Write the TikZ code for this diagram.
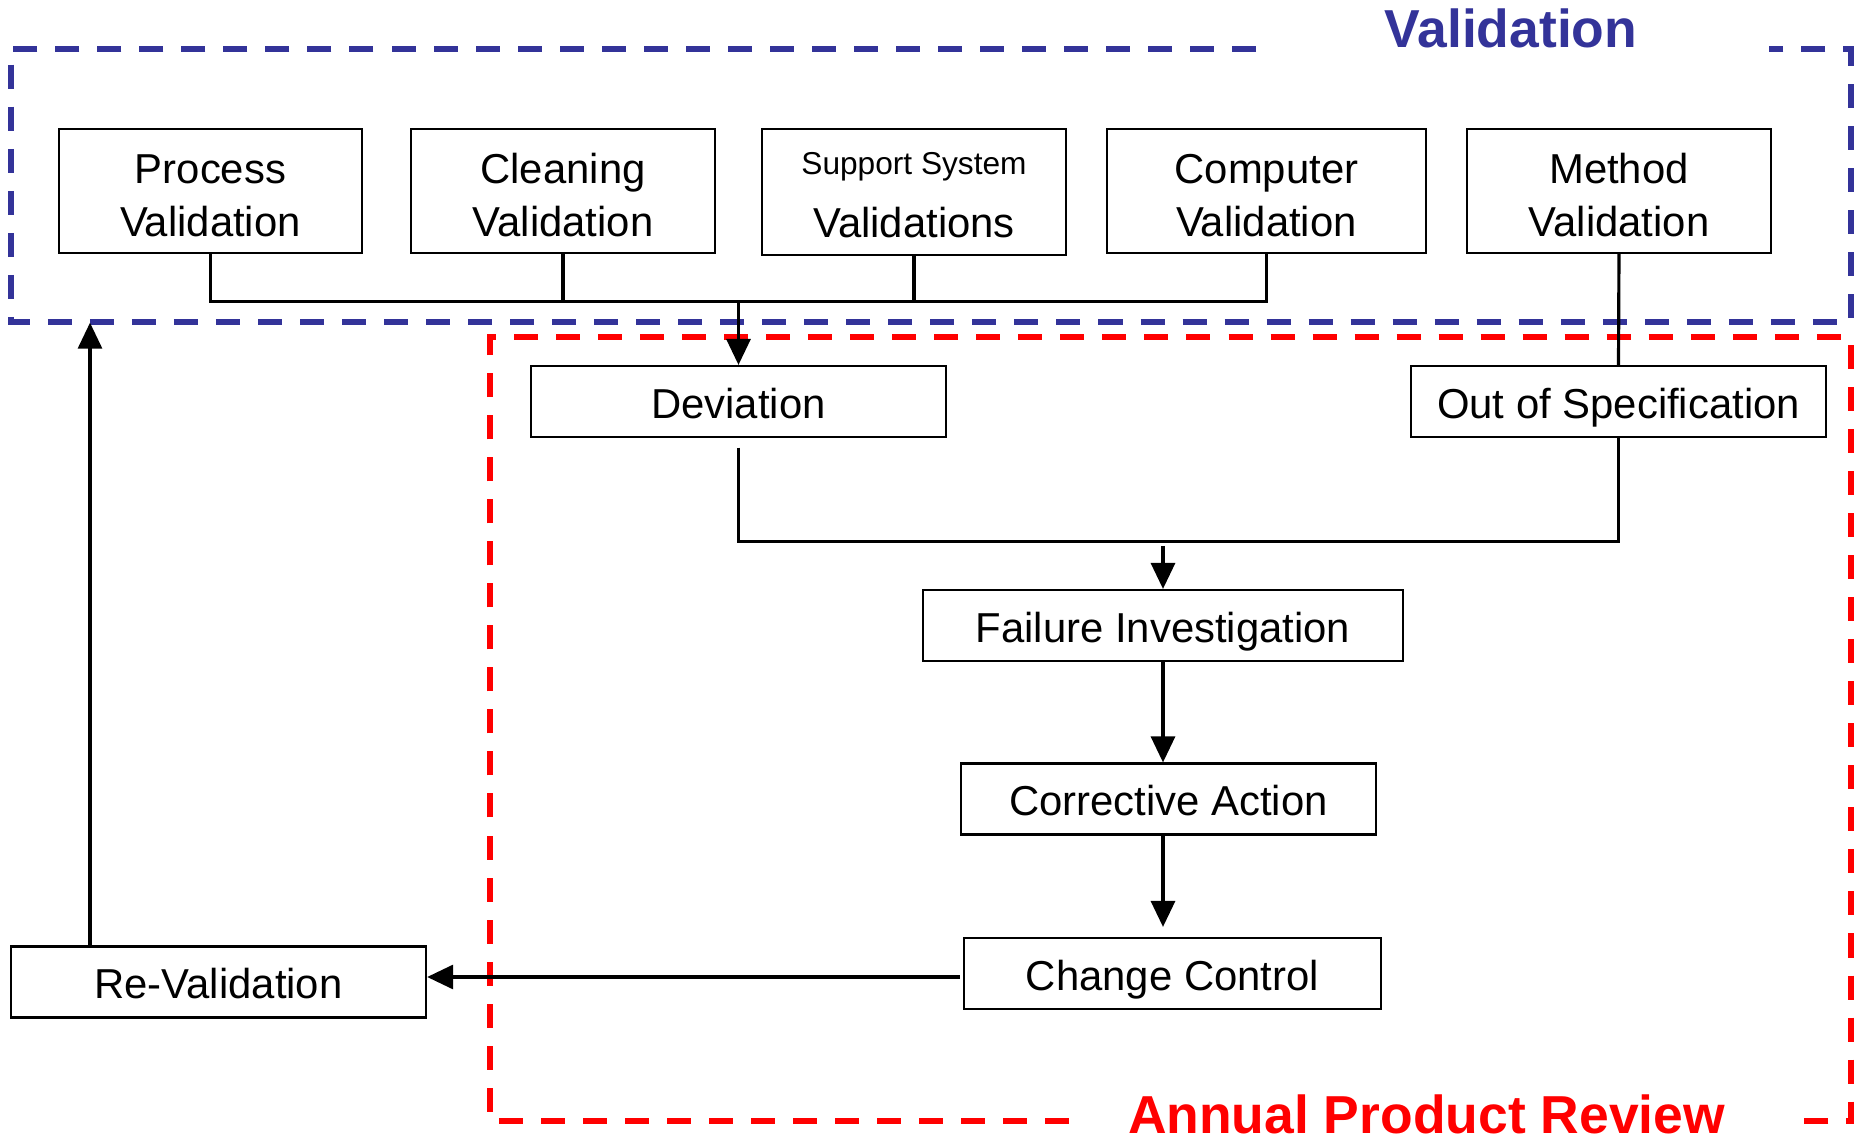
\documentclass[tikz,border=0pt]{standalone}
\usepackage{fontspec}
\setmainfont{Liberation Sans}
\usetikzlibrary{positioning,arrows.meta}
\definecolor{valBlue}{RGB}{51,51,153}
\definecolor{aprRed}{RGB}{255,0,0}
\tikzset{
  valBox/.style={rectangle, draw, line width=0.6pt, inner sep=0pt, align=center, minimum height=1.24cm, text height=0.9cm, text depth=0pt},
  flowBox/.style={rectangle, draw, line width=0.6pt, inner sep=0pt, minimum height=0.71cm, text height=0.33cm, text depth=0pt},
  joinLine/.style={line width=0.9pt},
  flowArrow/.style={line width=0.9pt, -{Triangle[length=2.6mm,width=2.4mm]}},
  valFrame/.style={draw=valBlue, line width=1.7pt, dash pattern=on 0.24cm off 0.18cm},
  aprFrame/.style={draw=aprRed, line width=1.7pt, dash pattern=on 0.24cm off 0.18cm},
  frameTitle/.style={font=\fontsize{15.2}{18}\selectfont\bfseries, anchor=base}
}

\begin{document}
\begin{tikzpicture}[x=0.01cm, y=-0.01cm, font=\fontsize{11.9}{14.8}\selectfont]
  \useasboundingbox (0,0) rectangle (1862,1140);
  \draw[valFrame] (1256,49.3) -- (10.7,49.3) -- (10.7,321.7) -- (1851,321.7) -- (1851,49.3) -- (1769,49.3);
  \draw[aprFrame] (1069,1121) -- (490,1121) -- (490,337.3) -- (1851,337.3) -- (1851,1121) -- (1791,1121);
  \node[frameTitle, text=valBlue] (valTitle) at (1511,47.7) {Validation};
  \node[frameTitle, text=aprRed] (aprTitle) at (1426.5,1134) {Annual Product Review};

  \node[valBox, minimum width=3.03cm] (procVal) at (210.5,191) {Process\\Validation};
  \node[valBox, minimum width=3.04cm] (cleanVal) at (563,191) {Cleaning\\Validation};
  \node[valBox, minimum width=3.04cm, minimum height=1.26cm] (suppVal) at (914,192) {{\fontsize{9}{11}\selectfont Support System}\\[3pt]Validations};
  \node[valBox, minimum width=3.19cm] (compVal) at (1266.5,191) {Computer\\Validation};
  \node[valBox, minimum width=3.04cm] (methVal) at (1619,191) {Method\\Validation};

  \node[flowBox, minimum width=4.15cm] (deviation) at (738.5,401.5) {Deviation};
  \node[flowBox, minimum width=4.15cm] (oos) at (1618.5,401.5) {Out of Specification};
  \node[flowBox, minimum width=4.8cm] (failInv) at (1163,625.5) {Failure Investigation};
  \node[flowBox, minimum width=4.15cm] (corrAct) at (1168.5,799) {Corrective Action};
  \node[flowBox, minimum width=4.17cm] (changeCtl) at (1172.5,973.5) {Change Control};
  \node[flowBox, minimum width=4.15cm] (reVal) at (218.5,982) {Re-Validation};

  \coordinate (busY) at (0,301.6);
  \draw[joinLine] (procVal.south) |- (busY -| compVal.south) -- (compVal.south);
  \draw[joinLine] (cleanVal.south) -- (cleanVal.south |- busY);
  \draw[joinLine] (suppVal.south) -- (suppVal.south |- busY);
  \draw[flowArrow] (deviation.north |- busY) -- (deviation.north);
  \draw[joinLine] (methVal.south) -- (oos.north);
  \coordinate (mergeY) at (0,541.5);
  \draw[joinLine] ([yshift=-0.095cm]deviation.south) |- (oos.south |- mergeY) -- (oos.south);
  \draw[flowArrow] ([yshift=-0.045cm]failInv.north |- mergeY) -- (failInv.north);
  \draw[flowArrow] (failInv.south) -- (failInv.south |- corrAct.north);
  \draw[flowArrow] (corrAct.south -| failInv.south) -- ([yshift=0.1cm]failInv.south |- changeCtl.north);
  \draw[flowArrow] ([xshift=-0.03cm,yshift=-0.035cm]changeCtl.west) -- ([yshift=-0.035cm]changeCtl.west -| reVal.east);
  \coordinate (valBottom) at (90,322.7);
  \draw[flowArrow] (reVal.north -| valBottom) -- (valBottom);
\end{tikzpicture}
\end{document}
